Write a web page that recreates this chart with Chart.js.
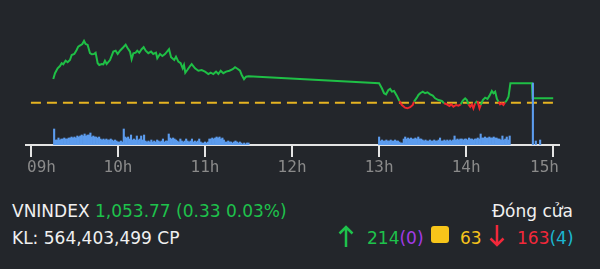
<!doctype html>
<html>

<head>
    <meta charset="utf-8">
    <title>VNINDEX</title>
    <script src="https://cdn.jsdelivr.net/npm/chart.js"></script>
</head>

<style>
    body {
        margin: 0;
        background-color: #23262b;
        width: 600px;
        height: 269px;
        overflow: hidden;
        position: relative;
        font-family: 'DejaVu Sans', sans-serif;
        font-size: 17px;
        color: #f0f0f0;
    }

    .chart-box {
        position: absolute;
        left: 0;
        top: 0;
        width: 600px;
        height: 185px;
    }

    .txt {
        position: absolute;
        line-height: 20px;
        white-space: nowrap;
    }

    .green { color: #1ec24b; }
    .purple { color: #a23be6; }
    .yellow { color: #f5c31c; }
    .red { color: #f2283a; }
    .cyan { color: #1bb6d1; }

    .square {
        position: absolute;
        left: 431px;
        top: 226px;
        width: 18px;
        height: 17px;
        border-radius: 3px;
        background-color: #f7c51a;
    }

    svg { position: absolute; }
</style>

<body>

    <div class="chart-box">
        <canvas id="bieuDo"></canvas>
    </div>

    <div class="txt" style="left: 12px; top: 201px;">VNINDEX <span class="green">1,053.77 (0.33 0.03%)</span></div>
    <div class="txt" style="left: 12px; top: 228px;">KL: 564,403,499 CP</div>

    <div class="txt" style="right: 27px; top: 201px;">Đóng cửa</div>

    <svg style="left: 338px; top: 224px;" width="16" height="24">
        <path d="M8 23 L8 3 M1.5 9.5 L8 3 L14.5 9.5" stroke="#1ec24b" stroke-width="2.5" fill="none" />
    </svg>
    <div class="txt" style="left: 367px; top: 228px;"><span class="green">214</span><span class="purple">(0)</span></div>
    <div class="square"></div>
    <div class="txt yellow" style="left: 460px; top: 228px;">63</div>
    <svg style="left: 489px; top: 224px;" width="16" height="24">
        <path d="M8 1 L8 21 M1.5 14.5 L8 21 L14.5 14.5" stroke="#f2283a" stroke-width="2.5" fill="none" />
    </svg>
    <div class="txt" style="left: 517px; top: 228px;"><span class="red">163</span><span class="cyan">(4)</span></div>

    <script>
        // thoi gian tinh bang phut ke tu 09:00
        var gioMoCua = 540;
        var thamChieu = 1053.44;

        var nhanGio = ['09h', '10h', '11h', '12h', '13h', '14h', '15h'];
        var viTriGio = [0, 60, 120, 180, 240, 300, 360];

        var phutGia = [
            15.4, 16.6, 18.4, 20.0, 21.2, 22.3, 23.9, 25.3, 26.9, 28.1, 29.9, 31.5, 32.6, 34.5, 35.4, 36.6,
            37.7, 39.1, 40.7, 41.9, 43.4, 44.6, 46.0, 47.1, 48.8, 49.9, 51.0, 52.2, 54.5, 56.8, 58.4, 59.8,
            61.4, 63.7, 65.3, 66.7, 68.3, 69.4, 70.6, 72.2, 73.3, 74.7, 76.3, 77.7, 79.1, 80.9, 82.8, 84.3,
            86.2, 87.1, 89.0, 90.6, 92.4, 95.2, 96.6, 98.8, 100.0, 101.6, 103.2, 104.6, 105.5, 106.4, 107.8,
            109.7, 110.8, 113.1, 115.4, 117.7, 120.0, 122.3, 123.9, 125.7, 127.6, 129.2, 130.8, 132.6, 134.5,
            136.8, 139.1, 140.7, 142.6, 144.1, 145.3, 146.9, 148.3, 150.0,
            240.0, 241.9, 243.4, 244.8, 246.4, 247.6, 248.8, 250.3, 252.2, 254.0, 255.7, 257.9, 259.5, 261.4,
            263.2, 264.1, 266.0, 267.1, 268.3, 270.1, 271.7, 273.3, 275.2, 277.0, 278.6, 280.9, 283.2, 284.8,
            286.7, 288.5, 289.7, 291.2, 293.1, 294.7, 296.3, 297.7, 299.3, 300.5, 301.6, 302.8, 303.9, 305.0,
            306.2, 307.8, 309.2, 310.1, 311.5, 313.1, 314.7, 316.1, 317.7, 318.8, 320.0, 321.2, 322.3, 323.4,
            324.6, 325.7, 326.9, 328.1, 329.2, 330.5, 345.3, 345.8, 360.0
        ];

        var giaTri = [
            1055.22, 1055.65, 1056.02, 1056.19, 1056.40, 1056.32, 1056.59, 1056.47, 1056.64, 1057.02, 1057.09, 1057.39, 1057.64, 1057.77, 1057.84, 1058.07,
            1057.84, 1057.77, 1057.15, 1057.07, 1057.09, 1057.19, 1056.40, 1056.27, 1056.34, 1056.32, 1056.59, 1056.34, 1056.64, 1057.27, 1057.34, 1057.09,
            1057.34, 1057.60, 1057.79, 1057.52, 1057.27, 1056.70, 1057.15, 1057.19, 1057.34, 1057.19, 1057.45, 1057.60, 1057.34, 1057.15, 1057.27, 1057.09,
            1057.19, 1056.77, 1057.09, 1056.94, 1057.09, 1057.45, 1056.85, 1056.64, 1056.89, 1056.52, 1056.40, 1056.02, 1056.27, 1055.69, 1055.89,
            1056.19, 1056.34, 1056.02, 1055.84, 1055.89, 1055.77, 1055.59, 1055.69, 1055.59, 1055.77, 1055.59, 1055.84, 1055.65, 1055.77,
            1055.84, 1055.95, 1056.10, 1055.97, 1055.84, 1055.52, 1055.20, 1055.39, 1055.42,
            1054.90, 1054.52, 1054.15, 1054.07, 1054.39, 1054.47, 1054.27, 1054.32, 1053.97, 1053.57, 1053.27, 1053.07, 1053.02, 1053.10,
            1053.27, 1053.52, 1053.82, 1054.02, 1054.15, 1054.27, 1054.15, 1054.22, 1054.07, 1053.97, 1053.77, 1053.64, 1053.57, 1053.40,
            1053.32, 1053.19, 1053.32, 1053.14, 1053.27, 1053.22, 1053.32, 1053.60, 1053.77, 1053.64, 1053.32, 1053.14, 1053.32, 1053.02,
            1053.40, 1053.57, 1053.02, 1053.27, 1053.64, 1053.82, 1053.72, 1053.97, 1054.32, 1054.15, 1054.27, 1053.72, 1053.52, 1053.32,
            1053.40, 1053.27, 1053.47, 1053.64, 1053.89, 1054.90, 1054.90, 1053.77, 1053.77
        ];

        // khoi luong (trieu CP) moi phut, phien sang tu 09:16
        var kLSang = [
            6.4, 2.0, 2.0, 2.8, 2.0, 2.4, 2.4, 2.8, 2.4, 2.4, 2.8, 2.8, 3.2, 2.8, 3.2,
            2.8, 3.6, 3.2, 3.6, 4.0, 3.6, 4.4, 3.6, 4.0, 4.0, 4.8, 3.2, 3.6, 3.2, 3.2,
            2.8, 3.2, 2.4, 2.0, 2.4, 2.0, 2.4, 2.0, 2.0, 2.4, 2.0, 1.6, 2.0, 1.6, 1.2,
            1.2, 1.6, 1.2, 6.4, 3.2, 2.8, 3.2, 2.4, 4.0, 2.0, 2.4, 2.0, 3.6, 2.0, 2.4,
            3.6, 2.0, 4.0, 1.6, 1.2, 1.6, 1.2, 2.0, 1.2, 1.6, 1.2, 2.0, 1.6, 1.2, 1.6,
            2.4, 1.2, 1.6, 1.6, 4.4, 2.8, 2.4, 2.8, 2.4, 2.0, 1.6, 1.2, 2.4, 1.6, 1.2,
            1.6, 2.4, 1.6, 1.2, 1.6, 2.4, 1.2, 1.6, 1.2, 1.6, 2.4, 1.2, 0.8, 0.8, 1.2,
            0.8, 1.2, 2.4, 2.4, 2.8, 2.4, 2.8, 3.2, 2.8, 3.2, 2.4, 2.8, 2.0, 1.2, 1.2,
            1.6, 1.2, 1.2, 0.8, 1.2, 1.6, 1.2, 0.8, 1.2, 0.8, 0.4, 0.8, 0.4, 0.8, 0.8
        ];

        // phien chieu tu 13:00
        var kLChieu = [
            3.2, 1.6, 2.0, 1.6, 1.6, 2.0, 1.6, 1.6, 2.0, 1.6, 1.6, 2.0, 1.6, 1.6, 1.2,
            0.8, 0.8, 2.4, 3.2, 2.4, 2.8, 2.4, 2.8, 2.4, 2.4, 2.8, 2.4, 3.2, 2.4, 2.4,
            2.0, 1.6, 2.0, 1.6, 1.6, 2.0, 1.6, 1.6, 2.0, 1.6, 1.6, 2.0, 2.8, 1.6, 1.6,
            2.0, 1.6, 2.0, 1.6, 2.0, 1.6, 2.0, 3.6, 2.0, 2.4, 2.0, 2.4, 2.4, 2.0, 2.4,
            2.4, 2.0, 2.8, 2.4, 2.4, 2.0, 2.4, 2.4, 2.8, 2.4, 4.4, 2.8, 2.8, 3.2, 2.8,
            2.8, 3.2, 2.8, 2.8, 3.2, 2.8, 2.8, 2.4, 2.4, 2.0, 3.6, 2.0, 2.4, 3.2, 2.0, 3.6
        ];

        // ATC va sau ATC
        var phutATC = [346, 348, 351];
        var kLATC = [24.8, 1.6, 2.0];

        var diemKL = [];
        kLSang.forEach((v, i) => diemKL.push({ x: gioMoCua + 16 + i, y: v }));
        kLChieu.forEach((v, i) => diemKL.push({ x: gioMoCua + 240 + i, y: v }));
        kLATC.forEach((v, i) => diemKL.push({ x: gioMoCua + phutATC[i], y: v }));

        var diemGia = phutGia.map((m, i) => ({ x: gioMoCua + m, y: giaTri[i] }));

        var mauTang = '#1fbf46';
        var mauGiam = '#f0262d';

        // nhan gio: can giua vach, nhung khong vuot qua hai dau truc
        var nhanTrucX = {
            id: 'nhanTrucX',
            afterDraw(chart) {
                var truc = chart.scales.x;
                var ctx = chart.ctx;
                ctx.save();
                ctx.font = '16px "DejaVu Sans Mono"';
                ctx.fillStyle = '#8a8a8a';
                ctx.textBaseline = 'top';
                ctx.textAlign = 'left';
                viTriGio.forEach((v, i) => {
                    var w = ctx.measureText(nhanGio[i]).width;
                    var x = truc.getPixelForValue(gioMoCua + v) - w / 2;
                    x = Math.max(truc.left + 1, Math.min(truc.right - w, x));
                    ctx.fillText(nhanGio[i], x, truc.top + 15);
                });
                ctx.restore();
            }
        };

        var bieuDo = new Chart(document.getElementById('bieuDo').getContext('2d'), {
            type: 'bar',
            data: {
                datasets: [{
                    type: 'bar',
                    data: diemKL,
                    yAxisID: 'kl',
                    backgroundColor: '#5c9cee',
                    barPercentage: 1,
                    categoryPercentage: 1,
                    order: 0
                }, {
                    type: 'line',
                    data: diemGia,
                    yAxisID: 'y',
                    borderWidth: 2,
                    pointRadius: 0,
                    tension: 0,
                    borderColor: mauTang,
                    segment: {
                        borderColor: ctx => (ctx.p0.parsed.y + ctx.p1.parsed.y) / 2 < thamChieu ? mauGiam : mauTang
                    },
                    order: 1
                }, {
                    type: 'line',
                    data: [{ x: gioMoCua, y: thamChieu }, { x: gioMoCua + 360, y: thamChieu }],
                    yAxisID: 'y',
                    borderColor: '#e6b422',
                    borderWidth: 2,
                    borderDash: [10, 6],
                    pointRadius: 0,
                    order: 2
                }]
            },
            options: {
                responsive: true,
                maintainAspectRatio: false,
                animation: false,
                layout: {
                    padding: { left: 26, right: 41, top: 0, bottom: 0 }
                },
                plugins: {
                    legend: { display: false },
                    tooltip: { enabled: false }
                },
                scales: {
                    x: {
                        type: 'linear',
                        offset: false,
                        min: 536.6,
                        max: 904,
                        border: { color: '#e4e4e4', width: 2 },
                        grid: {
                            offset: false,
                            drawOnChartArea: false,
                            drawTicks: true,
                            tickLength: 12,
                            color: '#e4e4e4',
                            lineWidth: 2
                        },
                        afterBuildTicks: scale => {
                            scale.ticks = viTriGio.map(v => ({ value: gioMoCua + v }));
                        },
                        afterFit: scale => {
                            scale.height = 40;
                        },
                        ticks: {
                            display: false
                        }
                    },
                    y: {
                        display: false,
                        min: 1050.27,
                        max: 1061.14
                    },
                    kl: {
                        display: false,
                        min: 0,
                        max: 58
                    }
                }
            },
            plugins: [nhanTrucX]
        });
    </script>
</body>

</html>
